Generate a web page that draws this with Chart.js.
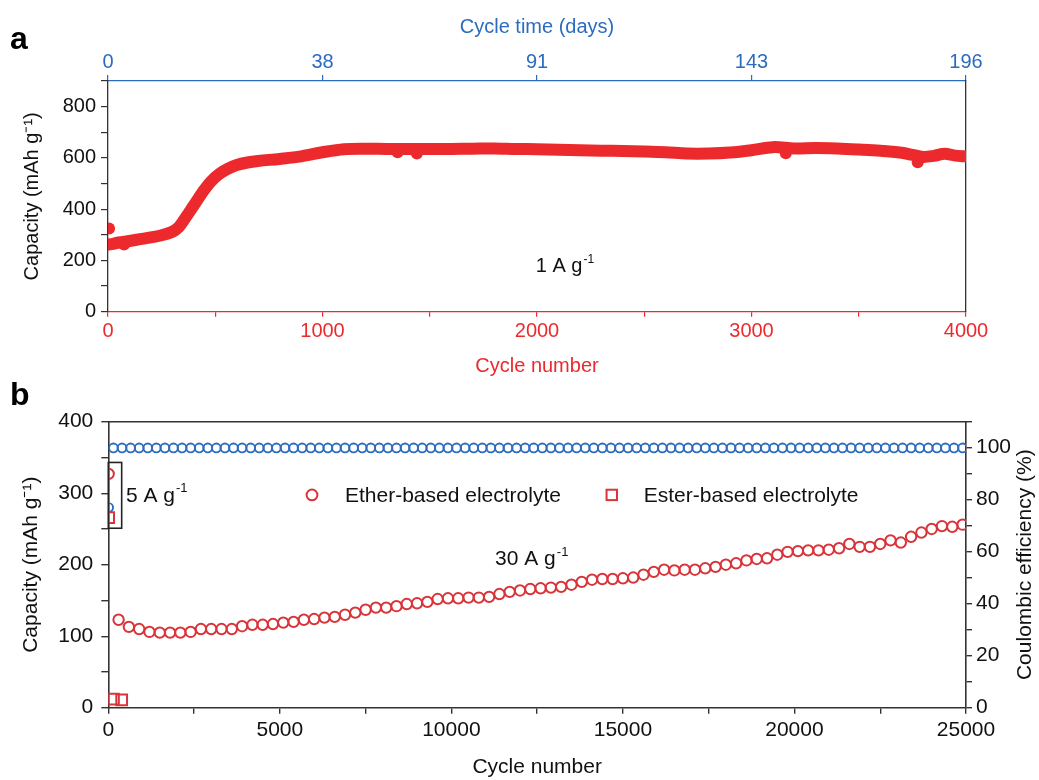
<!DOCTYPE html>
<html lang="en">
<head>
    <meta charset="UTF-8">
    <title>Capacity and cycle life</title>
    <script src="https://cdn.jsdelivr.net/npm/chart.js"></script>
    <style>
        body {
            margin: 0;
            background: #fff;
        }

        #wrap {
            position: relative;
            width: 1039px;
            height: 780px;
        }

        canvas {
            position: absolute;
            left: 0;
        }

        #chartA {
            top: 0;
        }

        #chartB {
            top: 375px;
        }
    </style>
</head>
<body>
    <div id="wrap">
        <canvas id="chartA" width="1039" height="390"></canvas>
        <canvas id="chartB" width="1039" height="405"></canvas>
    </div>
    <script>
        // ---- panel a: 1 A g-1 long cycling ----
        const aCycles = [0, 25, 50, 100, 150, 200, 250, 300, 330, 360, 400, 440, 480, 520, 560, 600, 650, 700, 800, 900,
            1000, 1100, 1200, 1300, 1400, 1500, 1600, 1700, 1800, 1900, 2000, 2100, 2200, 2300, 2400, 2500, 2600, 2700,
            2800, 2900, 3000, 3100, 3200, 3300, 3400, 3500, 3600, 3700, 3750, 3800, 3850, 3900, 3950, 4000];
        const aCapacity = [262, 265, 270, 276, 283, 290, 298, 312, 330, 365, 415, 465, 508, 538, 558, 572, 582, 588, 596, 606,
            622, 634, 636, 635, 635, 635, 635, 636, 637, 635, 634, 632, 630, 628, 627, 625, 622, 617, 617, 621,
            630, 642, 637, 639, 637, 633, 628, 620, 612, 604, 608, 616, 609, 606];
        // stray points off the main band
        const aOutCycles = [5, 75, 1350, 1440, 3160, 3775];
        const aOutCapacity = [325, 262, 622, 617, 618, 583];

        const dayTicks = [0, 1000, 2000, 3000, 4000];
        const dayLabels = ['0', '38', '91', '143', '196'];

        // ---- panel b: 5 A g-1 activation then 30 A g-1 ----
        const etherCycles = [10,
            300, 600, 900, 1200, 1500, 1800, 2100, 2400, 2700, 3000,
            3300, 3600, 3900, 4200, 4500, 4800, 5100, 5400, 5700, 6000,
            6300, 6600, 6900, 7200, 7500, 7800, 8100, 8400, 8700, 9000,
            9300, 9600, 9900, 10200, 10500, 10800, 11100, 11400, 11700, 12000,
            12300, 12600, 12900, 13200, 13500, 13800, 14100, 14400, 14700, 15000,
            15300, 15600, 15900, 16200, 16500, 16800, 17100, 17400, 17700, 18000,
            18300, 18600, 18900, 19200, 19500, 19800, 20100, 20400, 20700, 21000,
            21300, 21600, 21900, 22200, 22500, 22800, 23100, 23400, 23700, 24000,
            24300, 24600, 24900];
        const etherCapacity = [327,
            123, 113, 110, 106, 105, 105, 105, 106, 110, 110,
            110, 110, 114, 116, 116, 117, 119, 120, 123, 124,
            126, 127, 130, 133, 137, 140, 140, 142, 145, 146,
            148, 152, 153, 153, 154, 154, 155, 159, 162, 164,
            166, 167, 168, 169, 172, 176, 179, 180, 180, 181,
            182, 186, 190, 193, 192, 193, 193, 195, 197, 200,
            202, 206, 208, 209, 214, 218, 219, 220, 220, 221,
            223, 229, 225, 225, 229, 234, 231, 239, 245, 250,
            254, 253, 256];

        const esterCycles = [10, 150, 390];
        const esterCapacity = [266, 12, 11];

        const ceCycles = [10,
            150, 400, 650, 900, 1150, 1400, 1650, 1900, 2150, 2400,
            2650, 2900, 3150, 3400, 3650, 3900, 4150, 4400, 4650, 4900,
            5150, 5400, 5650, 5900, 6150, 6400, 6650, 6900, 7150, 7400,
            7650, 7900, 8150, 8400, 8650, 8900, 9150, 9400, 9650, 9900,
            10150, 10400, 10650, 10900, 11150, 11400, 11650, 11900, 12150, 12400,
            12650, 12900, 13150, 13400, 13650, 13900, 14150, 14400, 14650, 14900,
            15150, 15400, 15650, 15900, 16150, 16400, 16650, 16900, 17150, 17400,
            17650, 17900, 18150, 18400, 18650, 18900, 19150, 19400, 19650, 19900,
            20150, 20400, 20650, 20900, 21150, 21400, 21650, 21900, 22150, 22400,
            22650, 22900, 23150, 23400, 23650, 23900, 24150, 24400, 24650, 24900];
        const ceValues = [77,
            99.9, 99.9, 99.9, 99.9, 99.9, 99.9, 99.9, 99.9, 99.9, 99.9,
            99.9, 99.9, 99.9, 99.9, 99.9, 99.9, 99.9, 99.9, 99.9, 99.9,
            99.9, 99.9, 99.9, 99.9, 99.9, 99.9, 99.9, 99.9, 99.9, 99.9,
            99.9, 99.9, 99.9, 99.9, 99.9, 99.9, 99.9, 99.9, 99.9, 99.9,
            99.9, 99.9, 99.9, 99.9, 99.9, 99.9, 99.9, 99.9, 99.9, 99.9,
            99.9, 99.9, 99.9, 99.9, 99.9, 99.9, 99.9, 99.9, 99.9, 99.9,
            99.9, 99.9, 99.9, 99.9, 99.9, 99.9, 99.9, 99.9, 99.9, 99.9,
            99.9, 99.9, 99.9, 99.9, 99.9, 99.9, 99.9, 99.9, 99.9, 99.9,
            99.9, 99.9, 99.9, 99.9, 99.9, 99.9, 99.9, 99.9, 99.9, 99.9,
            99.9, 99.9, 99.9, 99.9, 99.9, 99.9, 99.9, 99.9, 99.9, 99.9];

        const RED_A = '#EC2A2E';
        const RED_B = '#D8343A';
        const BLUE = '#2C6CBF';
        const AXIS = '#333333';
        const FONT = '"Liberation Sans", Arial, Helvetica, sans-serif';

        Chart.defaults.font.family = FONT;
        Chart.defaults.color = '#111';

        const toPoints = (xs, ys) => xs.map((x, i) => ({ x: x, y: ys[i] }));

        // text with a raised "-1"
        function drawSupText(ctx, base, sup, x, y, size) {
            ctx.save();
            ctx.fillStyle = '#111';
            ctx.textAlign = 'left';
            ctx.textBaseline = 'middle';
            ctx.font = size + 'px ' + FONT;
            ctx.fillText(base, x, y);
            const w = ctx.measureText(base).width;
            ctx.font = Math.round(size * 0.62) + 'px ' + FONT;
            ctx.fillText(sup, x + w + 1, y - size * 0.36);
            ctx.restore();
        }

        function drawPanelLetter(ctx, letter, x, y) {
            ctx.save();
            ctx.fillStyle = '#000';
            ctx.font = 'bold 32px ' + FONT;
            ctx.textAlign = 'left';
            ctx.textBaseline = 'alphabetic';
            ctx.fillText(letter, x, y);
            ctx.restore();
        }

        // ---------- chart a ----------
        const annotateA = {
            id: 'annotateA',
            afterDraw(chart) {
                const ctx = chart.ctx;
                const xs = chart.scales.x;
                const ys = chart.scales.y;
                drawSupText(ctx, '1 A g', '-1', xs.getPixelForValue(1994), ys.getPixelForValue(176), 20);
                drawPanelLetter(ctx, 'a', 10, 49);
            }
        };

        new Chart(document.getElementById('chartA'), {
            type: 'scatter',
            data: {
                datasets: [
                    {
                        label: '1 A g-1',
                        data: toPoints(aCycles, aCapacity),
                        showLine: true,
                        borderColor: RED_A,
                        backgroundColor: RED_A,
                        borderWidth: 12,
                        borderCapStyle: 'round',
                        borderJoinStyle: 'round',
                        tension: 0.35,
                        pointRadius: 0,
                        clip: 0,
                    },
                    {
                        label: 'outliers',
                        data: toPoints(aOutCycles, aOutCapacity),
                        backgroundColor: RED_A,
                        borderColor: RED_A,
                        pointRadius: 6,
                        borderWidth: 0,
                        clip: 0,
                    }
                ]
            },
            options: {
                responsive: false,
                animation: false,
                layout: { padding: 0 },
                plugins: {
                    legend: { display: false },
                    tooltip: { enabled: false },
                },
                scales: {
                    x: {
                        type: 'linear',
                        position: 'bottom',
                        min: 0,
                        max: 4000,
                        ticks: {
                            stepSize: 500,
                            autoSkip: false,
                            maxRotation: 0,
                            color: RED_A,
                            padding: 3,
                            font: { size: 20 },
                            callback: v => (v % 1000 === 0 ? String(v) : ''),
                        },
                        grid: { drawOnChartArea: false, color: RED_A, tickLength: 5, lineWidth: 1.2 },
                        border: { color: RED_A, width: 1.3 },
                        title: {
                            display: true,
                            text: 'Cycle number',
                            color: RED_A,
                            font: { size: 20 },
                            padding: { top: 0, bottom: 12 },
                        },
                        afterFit: s => { s.height = 78.3; },
                    },
                    xTop: {
                        type: 'linear',
                        position: 'top',
                        min: 0,
                        max: 4000,
                        afterBuildTicks: s => { s.ticks = dayTicks.map(v => ({ value: v })); },
                        ticks: {
                            autoSkip: false,
                            maxRotation: 0,
                            color: BLUE,
                            padding: 1,
                            font: { size: 20 },
                            callback: v => dayLabels[dayTicks.indexOf(v)],
                        },
                        grid: { drawOnChartArea: false, color: BLUE, tickLength: 6, lineWidth: 1.2 },
                        border: { color: BLUE, width: 1.3 },
                        title: {
                            display: true,
                            text: 'Cycle time (days)',
                            color: BLUE,
                            font: { size: 20 },
                            padding: { top: 15, bottom: 0 },
                        },
                        afterFit: s => { s.height = 81; },
                    },
                    y: {
                        position: 'left',
                        min: 0,
                        max: 900,
                        ticks: {
                            stepSize: 100,
                            autoSkip: false,
                            padding: 5,
                            color: '#111',
                            font: { size: 20 },
                            callback: v => (v % 200 === 0 ? String(v) : ''),
                        },
                        grid: { drawOnChartArea: false, color: AXIS, tickLength: 7, lineWidth: 1.2 },
                        border: { color: AXIS, width: 1.3 },
                        title: {
                            display: true,
                            text: 'Capacity (mAh g\u207B\u00B9)',
                            color: '#111',
                            font: { size: 20 },
                            padding: { top: 20, bottom: 0 },
                        },
                        afterFit: s => { s.width = 108; },
                    },
                    yRight: {
                        position: 'right',
                        min: 0,
                        max: 900,
                        ticks: { display: false },
                        grid: { display: false },
                        border: { color: AXIS, width: 1.3 },
                        afterFit: s => { s.width = 73; },
                    }
                }
            },
            plugins: [annotateA]
        });

        // ---------- chart b ----------
        const annotateB = {
            id: 'annotateB',
            afterDraw(chart) {
                const ctx = chart.ctx;
                const xs = chart.scales.x;
                const ys = chart.scales.y;
                const area = chart.chartArea;

                // box around the 5 A g-1 activation cycles
                ctx.save();
                ctx.strokeStyle = '#222';
                ctx.lineWidth = 1.6;
                const bx1 = xs.getPixelForValue(0);
                const bx2 = xs.getPixelForValue(390);
                const by1 = ys.getPixelForValue(343);
                const by2 = ys.getPixelForValue(251);
                ctx.strokeRect(bx1, by1, bx2 - bx1, by2 - by1);
                ctx.restore();

                drawSupText(ctx, '5 A g', '-1', xs.getPixelForValue(516), ys.getPixelForValue(296), 21);
                drawSupText(ctx, '30 A g', '-1', xs.getPixelForValue(11274), ys.getPixelForValue(207), 21);

                // legend inside the plot
                const ly = area.top + 0.256 * (area.bottom - area.top);
                const lx1 = area.left + 0.2375 * (area.right - area.left);
                const lx2 = area.left + 0.587 * (area.right - area.left);
                ctx.save();
                ctx.strokeStyle = RED_B;
                ctx.lineWidth = 2;
                ctx.beginPath();
                ctx.arc(lx1, ly, 5.4, 0, Math.PI * 2);
                ctx.stroke();
                ctx.strokeRect(lx2 - 5.2, ly - 5.2, 10.4, 10.4);
                ctx.fillStyle = '#111';
                ctx.font = '21px ' + FONT;
                ctx.textBaseline = 'middle';
                ctx.textAlign = 'left';
                ctx.fillText('Ether-based electrolyte', lx1 + 33, ly + 1);
                ctx.fillText('Ester-based electrolyte', lx2 + 32, ly + 1);

                // right axis title, reading bottom to top
                ctx.translate(1025.7, (area.top + area.bottom) / 2);
                ctx.rotate(-Math.PI / 2);
                ctx.textAlign = 'center';
                ctx.fillText('Coulombic efficiency (%)', 0, 0);
                ctx.restore();

                drawPanelLetter(ctx, 'b', 10, 30);
            }
        };

        new Chart(document.getElementById('chartB'), {
            type: 'scatter',
            data: {
                datasets: [
                    {
                        label: 'Ether-based electrolyte',
                        data: toPoints(etherCycles, etherCapacity),
                        pointStyle: 'circle',
                        pointRadius: 5.2,
                        borderWidth: 2,
                        borderColor: RED_B,
                        backgroundColor: 'rgba(0,0,0,0)',
                        yAxisID: 'y',
                        clip: 0,
                    },
                    {
                        label: 'Ester-based electrolyte',
                        data: toPoints(esterCycles, esterCapacity),
                        pointStyle: 'rect',
                        pointRadius: 7.6,
                        borderWidth: 2,
                        borderColor: RED_B,
                        backgroundColor: 'rgba(0,0,0,0)',
                        yAxisID: 'y',
                        clip: 0,
                    },
                    {
                        label: 'Coulombic efficiency',
                        data: toPoints(ceCycles, ceValues),
                        pointStyle: 'circle',
                        pointRadius: 4.4,
                        borderWidth: 1.9,
                        borderColor: BLUE,
                        backgroundColor: 'rgba(0,0,0,0)',
                        yAxisID: 'y2',
                        clip: 0,
                    }
                ]
            },
            options: {
                responsive: false,
                animation: false,
                layout: { padding: 0 },
                plugins: {
                    legend: { display: false },
                    tooltip: { enabled: false },
                },
                scales: {
                    x: {
                        type: 'linear',
                        position: 'bottom',
                        min: 0,
                        max: 25000,
                        ticks: {
                            stepSize: 2500,
                            autoSkip: false,
                            maxRotation: 0,
                            padding: 4,
                            color: '#111',
                            font: { size: 21 },
                            callback: v => (v % 5000 === 0 ? String(v) : ''),
                        },
                        grid: { drawOnChartArea: false, color: AXIS, tickLength: 6, lineWidth: 1.4 },
                        border: { color: AXIS, width: 1.6 },
                        title: {
                            display: true,
                            text: 'Cycle number',
                            color: '#111',
                            font: { size: 21 },
                            padding: { top: 0, bottom: 0 },
                        },
                        afterFit: s => { s.height = 72.3; },
                    },
                    xTop: {
                        type: 'linear',
                        position: 'top',
                        min: 0,
                        max: 25000,
                        ticks: { display: false },
                        grid: { display: false },
                        border: { color: AXIS, width: 1.6 },
                        afterFit: s => { s.height = 46.7; },
                    },
                    y: {
                        position: 'left',
                        min: 0,
                        max: 400,
                        ticks: {
                            stepSize: 50,
                            autoSkip: false,
                            padding: 8,
                            color: '#111',
                            font: { size: 21 },
                            callback: v => (v % 100 === 0 ? String(v) : ''),
                        },
                        grid: { drawOnChartArea: false, color: AXIS, tickLength: 7, lineWidth: 1.4 },
                        border: { color: AXIS, width: 1.6 },
                        title: {
                            display: true,
                            text: 'Capacity (mAh g\u207B\u00B9)',
                            color: '#111',
                            font: { size: 21 },
                            padding: { top: 19, bottom: 0 },
                        },
                        afterFit: s => { s.width = 108.3; },
                    },
                    y2: {
                        position: 'right',
                        min: 0,
                        max: 110,
                        ticks: {
                            stepSize: 10,
                            autoSkip: false,
                            padding: 4,
                            color: '#111',
                            font: { size: 21 },
                            callback: v => (v % 20 === 0 && v <= 100 ? String(v) : ''),
                        },
                        grid: { drawOnChartArea: false, color: AXIS, tickLength: 6, lineWidth: 1.4 },
                        border: { color: AXIS, width: 1.6 },
                        afterFit: s => { s.width = 73; },
                    }
                }
            },
            plugins: [annotateB]
        });
    </script>
</body>
</html>
